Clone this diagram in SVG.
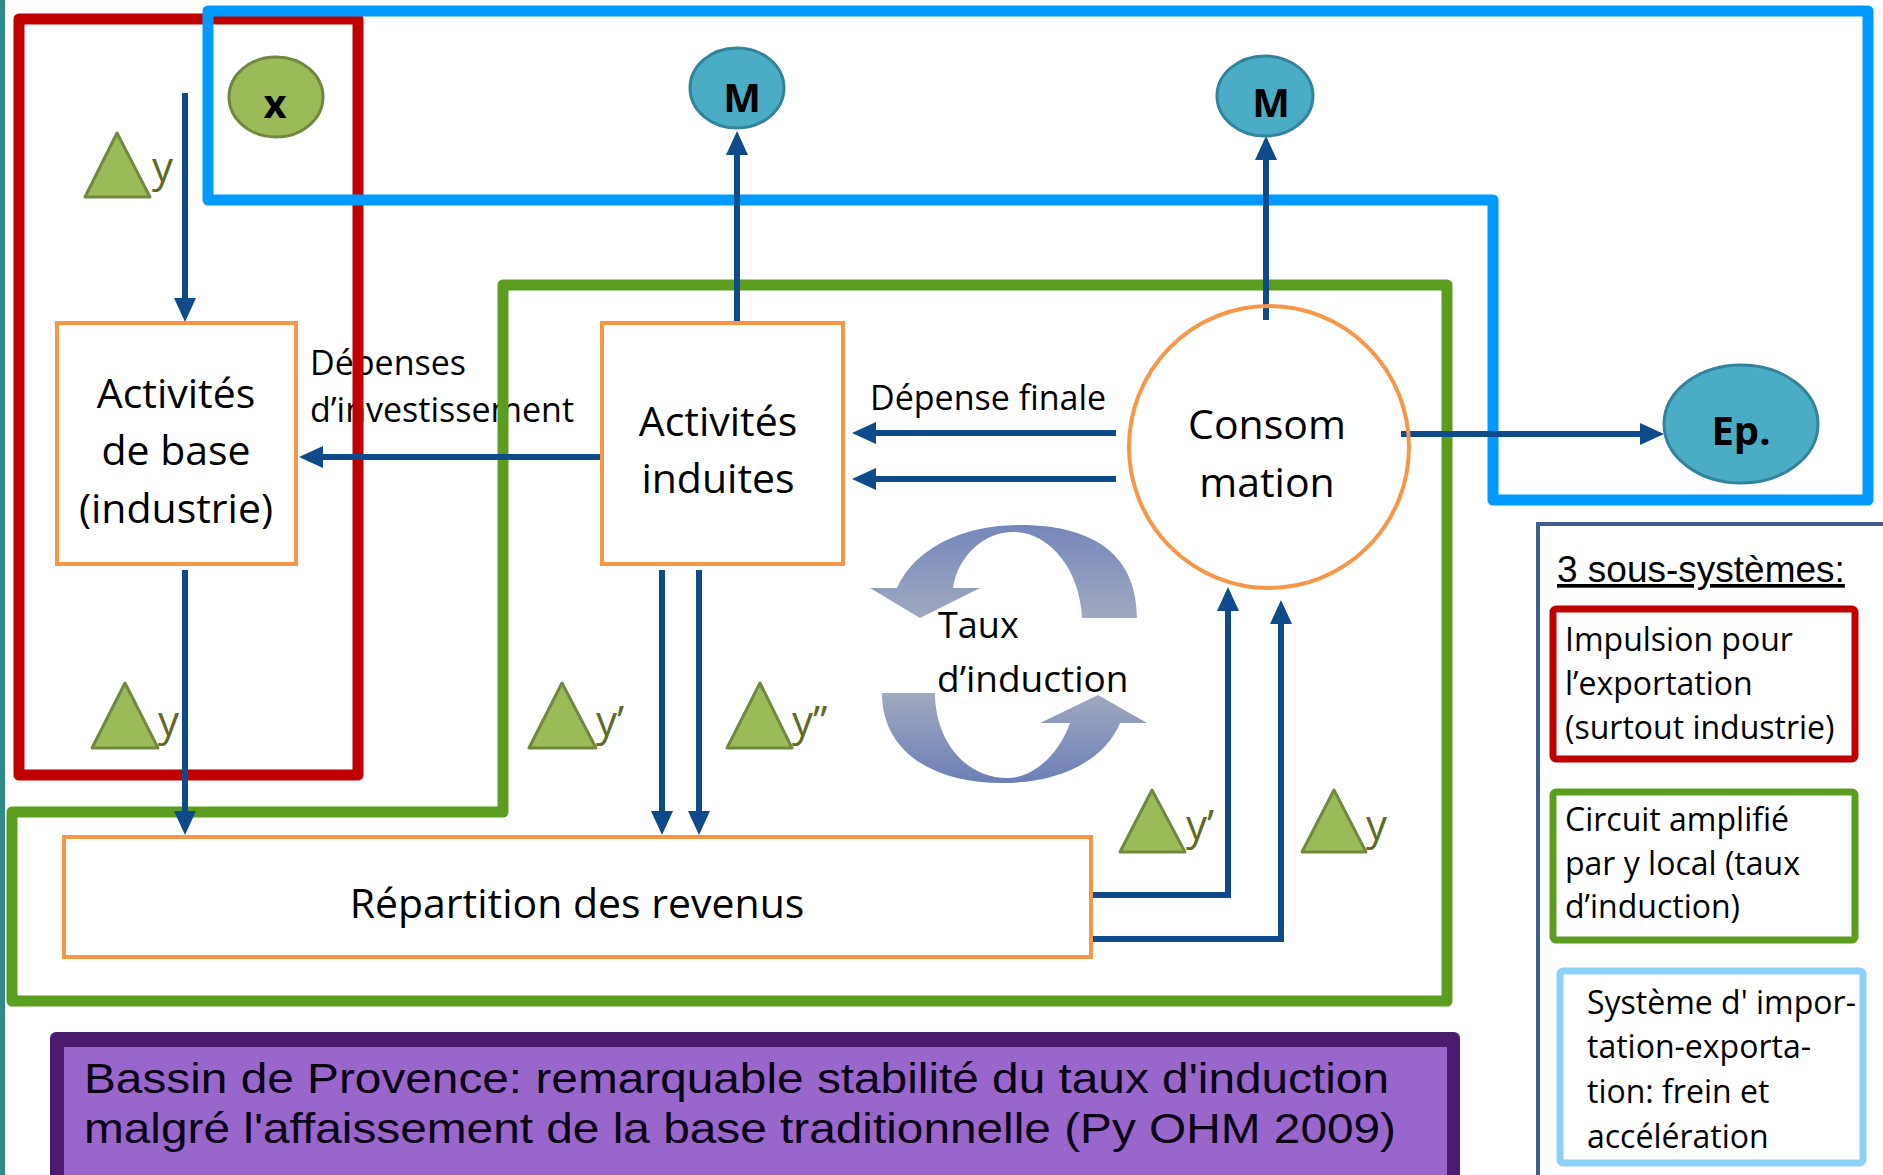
<svg xmlns="http://www.w3.org/2000/svg" width="1883" height="1175" viewBox="0 0 1883 1175">
<style>
.box{fill:#fff;stroke:#f79646;stroke-width:4}
.t{font-family:"Open Sans","Liberation Sans",sans-serif;fill:#000}
.big{font-size:41px}
.lab{font-size:34px}
.leg{font-size:32px}
.circ{font-family:"Open Sans","Liberation Sans",sans-serif;font-weight:bold;font-size:40px;fill:#000}
.tri{fill:#9bbb59;stroke:#71893f;stroke-width:3;stroke-linejoin:round}
.yl{font-family:"Open Sans","Liberation Sans",sans-serif;font-size:42px;fill:#5f6b25}
.con{fill:none;stroke:#0f4a8a;stroke-width:6;marker-end:url(#ah)}
.zone{fill:none;stroke-width:11;stroke-linejoin:round}
</style>
<defs>
<marker id="ah" markerUnits="userSpaceOnUse" markerWidth="24" markerHeight="22" viewBox="0 0 24 22" refX="1" refY="11" orient="auto">
<path d="M0,0 L24,11 L0,22 Z" fill="#0f4a8a"/>
</marker>
<linearGradient id="gUp" x1="0" y1="0" x2="0" y2="1">
<stop offset="0" stop-color="#7587ba"/>
<stop offset="1" stop-color="#a0a9c0"/>
</linearGradient>
<linearGradient id="gDn" x1="0" y1="0" x2="0" y2="1">
<stop offset="0" stop-color="#a0a9c0"/>
<stop offset="1" stop-color="#6c7fb7"/>
</linearGradient>
</defs>
<rect x="0" y="0" width="1883" height="1175" fill="#fff"/>
<rect x="0" y="0" width="5" height="1175" fill="#2e8b87"/>

<g id="edge-labels">
<text class="t lab" x="310" y="375">Dépenses</text>
<text class="t lab" x="310" y="422">d’investissement</text>
<text class="t lab" x="870" y="410">Dépense finale</text>
</g>

<g id="subsystems">
<rect id="zone-red" class="zone" x="19" y="19" width="339" height="756" stroke="#c00000"/>
<path id="zone-green" class="zone" d="M503,285 H1447 V1001 H12 V812 H503 Z" stroke="#5b9e1f"/>
<path id="zone-blue" class="zone" d="M208,11 H1868 V500 H1493 V200 H208 Z" stroke="#0099ff"/>
</g>

<g id="loop">
<path d="M1137,618 C1137,560 1100,525 1020,525 C960,525 914,550 897,588 L870,588 L920,618 L980,588 L953,588 C958,555 985,532 1013,532 C1050,532 1080,570 1082,618 Z" fill="url(#gUp)"/>
<path d="M882,693 C882,750 930,783 1003,783 C1060,783 1105,760 1120,723 L1147,723 L1098,695 L1040,723 L1070,723 C1060,752 1035,778 1007,778 C965,778 935,740 935,693 Z" fill="url(#gDn)"/>
<text class="t" font-size="36" x="938" y="638">Taux</text>
<text class="t" font-size="37" x="937" y="692">d’induction</text>
</g>

<g id="connectors">
<line class="con" x1="185" y1="93" x2="185" y2="299"/>
<line class="con" x1="185" y1="570" x2="185" y2="812"/>
<line class="con" x1="600" y1="457" x2="322" y2="457"/>
<line class="con" x1="737" y1="322" x2="737" y2="154"/>
<line class="con" x1="1266" y1="320" x2="1266" y2="159"/>
<line class="con" x1="1116" y1="433" x2="875" y2="433" stroke-width="7"/>
<line class="con" x1="1116" y1="479" x2="875" y2="479" stroke-width="7"/>
<line class="con" x1="662" y1="570" x2="662" y2="812"/>
<line class="con" x1="699" y1="570" x2="699" y2="812"/>
<polyline class="con" points="1091,895 1228,895 1228,610"/>
<polyline class="con" points="1091,939 1281,939 1281,623"/>
<line class="con" x1="1401" y1="434" x2="1641" y2="434"/>
</g>

<g id="node-base">
<rect class="box" x="57" y="323" width="239" height="241"/>
<text class="t big" text-anchor="middle" x="176" y="408">Activités</text>
<text class="t big" text-anchor="middle" x="176" y="465">de base</text>
<text class="t big" text-anchor="middle" x="176" y="523">(industrie)</text>
</g>
<g id="node-induites">
<rect class="box" x="602" y="323" width="241" height="241"/>
<text class="t big" text-anchor="middle" x="718" y="436">Activités</text>
<text class="t big" text-anchor="middle" x="718" y="493">induites</text>
</g>
<g id="node-consommation">
<ellipse cx="1269" cy="447" rx="140" ry="141" fill="none" stroke="#f79646" stroke-width="4"/>
<text class="t big" text-anchor="middle" x="1267" y="439">Consom</text>
<text class="t big" text-anchor="middle" x="1267" y="497">mation</text>
</g>
<g id="node-repartition">
<rect class="box" x="64" y="837" width="1027" height="120"/>
<text class="t big" text-anchor="middle" x="577" y="918">Répartition des revenus</text>
</g>
<g id="node-x">
<ellipse cx="276" cy="97" rx="47" ry="40" fill="#9bbb59" stroke="#71893f" stroke-width="3"/>
<text class="circ" text-anchor="middle" x="275" y="118">x</text>
</g>
<g id="node-m1">
<ellipse cx="737" cy="88" rx="47" ry="40" fill="#4bacc6" stroke="#31849b" stroke-width="3"/>
<text class="circ" text-anchor="middle" x="742" y="112">M</text>
</g>
<g id="node-m2">
<ellipse cx="1265" cy="96" rx="48" ry="40" fill="#4bacc6" stroke="#31849b" stroke-width="3"/>
<text class="circ" text-anchor="middle" x="1271" y="117">M</text>
</g>
<g id="node-ep">
<ellipse cx="1741" cy="424" rx="77" ry="59" fill="#4bacc6" stroke="#31849b" stroke-width="3"/>
<text class="circ" text-anchor="middle" x="1741" y="445">Ep.</text>
</g>

<g id="deltas">
<polygon class="tri" points="117,133 85,197 150,197"/>
<text class="yl" x="152" y="182">y</text>
<polygon class="tri" points="125,683 92,748 158,748"/>
<text class="yl" x="158" y="736">y</text>
<polygon class="tri" points="562,683 529,748 596,748"/>
<text class="yl" x="596" y="736">y’</text>
<polygon class="tri" points="760,683 727,748 792,748"/>
<text class="yl" x="792" y="736">y’’</text>
<polygon class="tri" points="1152,790 1120,852 1185,852"/>
<text class="yl" x="1186" y="840">y’</text>
<polygon class="tri" points="1334,790 1302,852 1366,852"/>
<text class="yl" x="1366" y="840">y</text>
</g>

<g id="caption">
<rect x="50" y="1032" width="1410" height="200" rx="6" fill="#4b1c6e"/>
<rect x="64" y="1047" width="1383" height="200" fill="#9966cc"/>
<text font-family="Liberation Sans, Arial, sans-serif" font-size="42" fill="#0a0014" x="84" y="1093" textLength="1305" lengthAdjust="spacingAndGlyphs">Bassin de Provence: remarquable stabilité du taux d'induction</text>
<text font-family="Liberation Sans, Arial, sans-serif" font-size="42" fill="#0a0014" x="84" y="1143" textLength="1312" lengthAdjust="spacingAndGlyphs">malgré l'affaissement de la base traditionnelle (Py OHM 2009)</text>
</g>

<g id="legend">
<rect x="1538" y="524" width="400" height="700" fill="none" stroke="#3f6190" stroke-width="4"/>
<text font-family="Liberation Sans, Arial, sans-serif" font-size="37" fill="#000" x="1557" y="582" text-decoration="underline">3 sous-systèmes:</text>
<g id="legend-red">
<rect x="1553" y="609" width="302" height="150" rx="3" fill="none" stroke="#c00000" stroke-width="7"/>
<text class="t leg" x="1565" y="651">Impulsion pour</text>
<text class="t leg" x="1565" y="695">l’exportation</text>
<text class="t leg" x="1565" y="739">(surtout industrie)</text>
</g>
<g id="legend-green">
<rect x="1553" y="792" width="302" height="148" rx="3" fill="none" stroke="#5b9e1f" stroke-width="7"/>
<text class="t leg" x="1565" y="831">Circuit amplifié</text>
<text class="t leg" x="1565" y="875">par y local (taux</text>
<text class="t leg" x="1565" y="918">d’induction)</text>
</g>
<g id="legend-blue">
<rect x="1560" y="971" width="303" height="192" rx="3" fill="none" stroke="#8dd1fb" stroke-width="7"/>
<text class="t leg" x="1587" y="1014">Système d' impor-</text>
<text class="t leg" x="1587" y="1058">tation-exporta-</text>
<text class="t leg" x="1587" y="1103">tion: frein et</text>
<text class="t leg" x="1587" y="1148">accélération</text>
</g>
</g>
</svg>
